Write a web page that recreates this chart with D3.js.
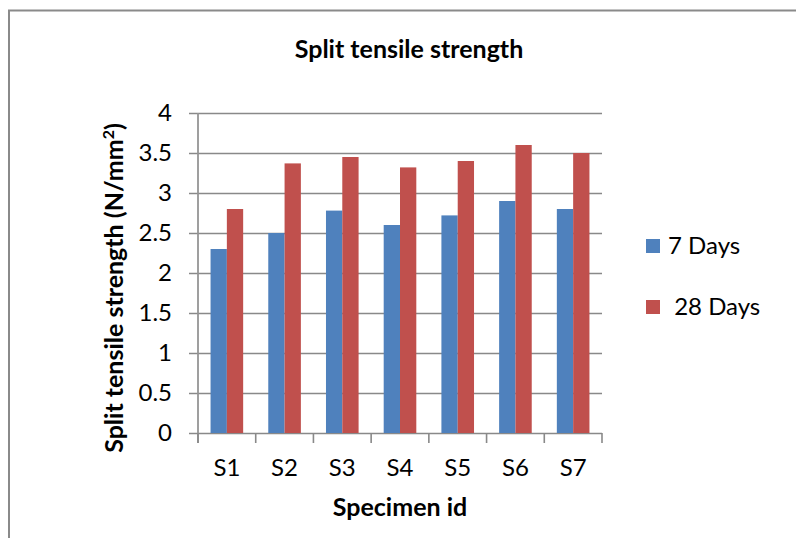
<!DOCTYPE html>
<html>
<head>
<meta charset="utf-8">
<script src="https://cdn.jsdelivr.net/npm/d3@7"></script>
<style>
  html, body { margin: 0; padding: 0; background: #fff; }
  svg { display: block; font-family: Lato, "Open Sans", sans-serif; }
</style>
</head>
<body>
<svg id="chart" width="796" height="538"></svg>
<script>
// Split tensile strength of specimens after 7 and 28 days of curing
const specimens = ["S1", "S2", "S3", "S4", "S5", "S6", "S7"];
const series = ["7 Days", "28 Days"];
const days7 = [2.30, 2.50, 2.78, 2.60, 2.72, 2.90, 2.80];
const days28 = [2.80, 3.37, 3.45, 3.32, 3.40, 3.60, 3.50];
const yTicks = [0, 0.5, 1, 1.5, 2, 2.5, 3, 3.5, 4];
const colors = ["#4F81BD", "#C0504D"];
const legendLabels = ["7 Days", " 28 Days"];

const rows = specimens.map((s, i) => ({ id: s, values: [days7[i], days28[i]] }));

const svg = d3.select("#chart");

// outer chart frame (runs past the right and bottom edges)
svg.append("rect")
  .attr("x", 9).attr("y", 10.5)
  .attr("width", 820).attr("height", 560)
  .attr("fill", "#fff")
  .attr("stroke", "#8a8a8a").attr("stroke-width", 2);

const plot = { left: 198, right: 602, top: 113, bottom: 433 };

const x = d3.scaleBand().domain(specimens).range([plot.left, plot.right]).padding(0);
const xs = d3.scaleBand().domain(series).range([0, x.bandwidth()])
  .paddingInner(0).paddingOuter(0.77);
const y = d3.scaleLinear().domain([0, 4]).range([plot.bottom, plot.top]);

// horizontal gridlines with tick marks and value labels
const yAxis = d3.axisLeft(y)
  .tickValues(yTicks)
  .tickFormat(d3.format("~g"))
  .tickSizeInner(-(plot.right - plot.left + 9))
  .tickSizeOuter(0)
  .tickPadding(17);
const gy = svg.append("g")
  .attr("transform", `translate(${plot.left - 9},0)`)
  .call(yAxis);
gy.select(".domain").remove();
gy.selectAll(".tick line").attr("stroke", "#898989").attr("stroke-width", 1.6);
gy.selectAll(".tick text")
  .attr("fill", "#000").attr("font-size", 24).attr("font-family", "Lato, sans-serif");

// vertical axis line
svg.append("line")
  .attr("x1", plot.left).attr("x2", plot.left)
  .attr("y1", plot.top).attr("y2", plot.bottom + 10)
  .attr("stroke", "#959595").attr("stroke-width", 1.8);

// bars
const groups = svg.append("g").selectAll("g")
  .data(rows).join("g")
  .attr("transform", d => `translate(${x(d.id)},0)`);
groups.selectAll("rect")
  .data(d => d.values.map((v, k) => ({ key: series[k], value: v, k })))
  .join("rect")
  .attr("x", d => xs(d.key))
  .attr("y", d => y(d.value))
  .attr("width", xs.bandwidth())
  .attr("height", d => y(0) - y(d.value))
  .attr("fill", d => colors[d.k]);

// category axis: tick marks between categories, labels centred
const boundaries = specimens.map(s => x(s)).concat([x.range()[1]]);
svg.append("g").selectAll("line")
  .data(boundaries).join("line")
  .attr("x1", d => d).attr("x2", d => d)
  .attr("y1", plot.bottom).attr("y2", plot.bottom + 10)
  .attr("stroke", "#898989").attr("stroke-width", 1.6);

const xAxis = d3.axisBottom(x).tickSize(0).tickPadding(26);
const gx = svg.append("g")
  .attr("transform", `translate(0,${plot.bottom})`)
  .call(xAxis);
gx.select(".domain").remove();
gx.selectAll(".tick text")
  .attr("fill", "#000").attr("font-size", 24).attr("font-family", "Lato, sans-serif");

// titles
svg.append("text")
  .attr("x", 409).attr("y", 58)
  .attr("text-anchor", "middle")
  .attr("font-size", 25).attr("font-weight", "bold")
  .text("Split tensile strength");

svg.append("text")
  .attr("x", (plot.left + plot.right) / 2).attr("y", 516)
  .attr("text-anchor", "middle")
  .attr("font-size", 25).attr("font-weight", "bold")
  .text("Specimen id");

const yt = svg.append("text")
  .attr("transform", "translate(123,288) rotate(-90)")
  .attr("text-anchor", "middle")
  .attr("font-size", 25).attr("font-weight", "bold");
yt.append("tspan").text("Split tensile strength (N/mm");
yt.append("tspan").attr("dy", -9).attr("font-size", 16).text("2");
yt.append("tspan").attr("dy", 9).text(")");

// legend
const legend = svg.append("g").selectAll("g")
  .data(series).join("g")
  .attr("transform", (d, i) => `translate(646,${239 + i * 61})`);
legend.append("rect")
  .attr("width", 14).attr("height", 14)
  .attr("fill", (d, i) => colors[i]);
legend.append("text")
  .attr("x", 22).attr("y", 15)
  .attr("font-size", 24)
  .style("white-space", "pre")
  .text((d, i) => legendLabels[i]);
</script>
</body>
</html>
